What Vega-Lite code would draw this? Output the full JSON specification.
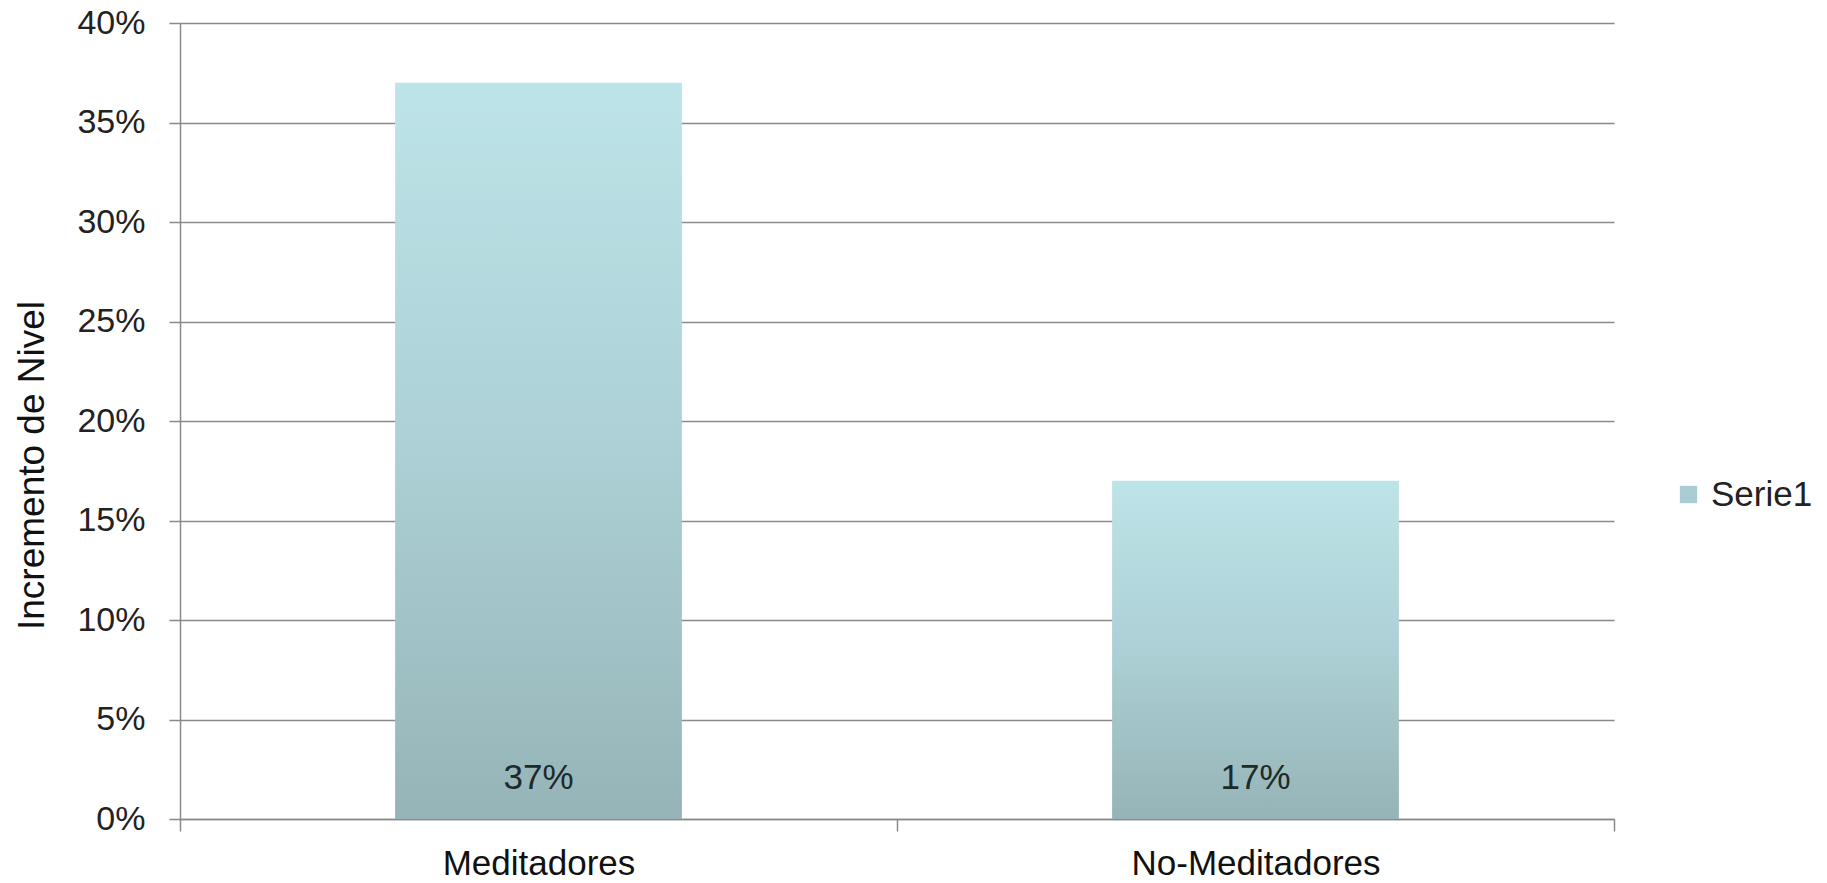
{
  "$schema": "https://vega.github.io/schema/vega-lite/v6.json",
  "width": 1434,
  "height": 796,
  "autosize": "none",
  "padding": {"left": 180, "top": 23, "right": 213, "bottom": 64},
  "background": "white",
  "config": {
    "view": {"stroke": null},
    "font": "Liberation Sans"
  },
  "data": {
    "values": [
      {"grupo": "Meditadores", "valor": 0.37, "serie": "Serie1"},
      {"grupo": "No-Meditadores", "valor": 0.17, "serie": "Serie1"}
    ]
  },
  "layer": [
    {
      "mark": {
        "type": "bar",
        "width": {"band": 0.4},
        "color": {
          "gradient": "linear",
          "x1": 0, "y1": 0, "x2": 0, "y2": 1,
          "stops": [
            {"offset": 0, "color": "#bde4e8"},
            {"offset": 0.5, "color": "#acd0d5"},
            {"offset": 1, "color": "#96b4b7"}
          ]
        }
      },
      "encoding": {
        "x": {
          "field": "grupo",
          "type": "nominal",
          "sort": null,
          "scale": {"paddingInner": 0, "paddingOuter": 0},
          "axis": {
            "title": null,
            "labelAngle": 0,
            "labelFontSize": 35,
            "labelLimit": 0,
            "labelColor": "#111111",
            "labelPadding": 15,
            "tickBand": "extent",
            "tickSize": 12,
            "tickColor": "#8a8a8a",
            "tickWidth": 1.5,
            "domainColor": "#8a8a8a",
            "domainWidth": 1.5,
            "grid": false
          }
        },
        "y": {
          "field": "valor",
          "type": "quantitative",
          "scale": {"domain": [0, 0.4], "nice": false},
          "axis": {
            "title": "Incremento de Nivel",
            "titleFontSize": 37,
            "titleFontWeight": "normal",
            "titleColor": "#111111",
            "titleAngle": -90,
            "titleAlign": "center",
            "titleBaseline": "middle",
            "titleX": -148,
            "titleY": 442,
            "titleLimit": 0,
            "values": [0, 0.05, 0.1, 0.15, 0.2, 0.25, 0.3, 0.35, 0.4],
            "format": ".0%",
            "labelFontSize": 34,
            "labelColor": "#222222",
            "labelPadding": 24,
            "tickSize": 11,
            "tickColor": "#8a8a8a",
            "tickWidth": 1.5,
            "domainColor": "#8a8a8a",
            "domainWidth": 1.5,
            "grid": true,
            "gridColor": "#8a8a8a",
            "gridWidth": 1.5
          }
        }
      }
    },
    {
      "mark": {
        "type": "text",
        "fontSize": 35,
        "color": "#1d2a2b",
        "baseline": "middle",
        "dy": -41
      },
      "encoding": {
        "x": {"field": "grupo", "type": "nominal", "sort": null},
        "y": {"datum": 0},
        "text": {"field": "valor", "type": "quantitative", "format": ".0%"}
      }
    },
    {
      "mark": {"type": "square", "opacity": 0, "size": 0},
      "encoding": {
        "x": {"field": "grupo", "type": "nominal", "sort": null},
        "y": {"datum": 0},
        "color": {
          "field": "serie",
          "type": "nominal",
          "scale": {"range": ["#a9cdd2"]},
          "legend": {
            "title": null,
            "orient": "none",
            "legendX": 1491,
            "legendY": 454,
            "padding": 0,
            "symbolType": "square",
            "symbolSize": 300,
            "symbolOpacity": 1,
            "symbolStrokeWidth": 0,
            "labelFontSize": 35,
            "labelLimit": 0,
            "labelColor": "#222222",
            "labelOffset": 5
          }
        }
      }
    }
  ]
}
